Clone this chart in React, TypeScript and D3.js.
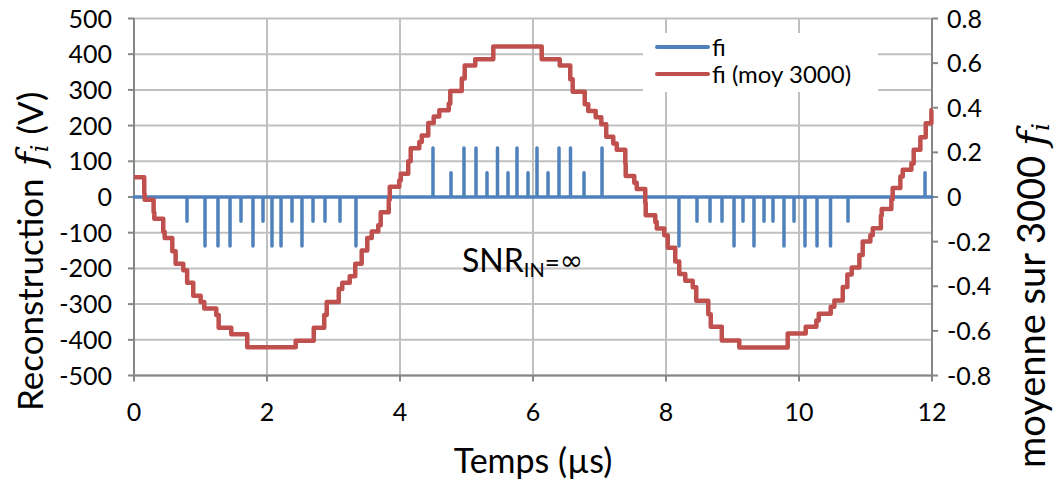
import React from "react";
import * as d3 from "d3";

// ---------- data ----------
const xTicks = [0, 2, 4, 6, 8, 10, 12];
const leftTicks = [500, 400, 300, 200, 100, 0, -100, -200, -300, -400, -500];
const leftTickLabels = ["500", "400", "300", "200", "100", "0", "-100", "-200", "-300", "-400", "-500"];
const rightTicks = [0.8, 0.6, 0.4, 0.2, 0, -0.2, -0.4, -0.6, -0.8];
const rightTickLabels = ["0.8", "0.6", "0.4", "0.2", "0", "-0.2", "-0.4", "-0.6", "-0.8"];

// fi: pulses (time µs, value V) on a zero baseline
const spikeTimes = [
  0.797, 1.068, 1.263, 1.444, 1.609, 1.789, 1.94, 2.075, 2.211, 2.376, 2.526, 2.692, 2.872, 3.098, 3.338,
  4.496, 4.767, 4.962, 5.143, 5.308, 5.466, 5.624, 5.759, 5.925, 6.06, 6.226, 6.391, 6.564, 6.767, 7.038,
  8.195, 8.466, 8.662, 8.842, 9.023, 9.158, 9.323, 9.474, 9.609, 9.774, 9.925, 10.09, 10.271, 10.474, 10.737,
  11.895,
];
const spikeValues = [
  -68, -137, -137, -137, -68, -137, -68, -137, -137, -68, -137, -68, -68, -68, -137,
  137, 68, 137, 137, 68, 137, 68, 137, 68, 137, 68, 137, 137, 68, 137,
  -137, -68, -68, -68, -137, -68, -137, -68, -68, -137, -68, -137, -137, -137, -68,
  68,
];

// fi (moy 3000): staircase, value holds from each time until the next
const avgTimes = [
  0, 0.154, 0.16, 0.295, 0.305, 0.44, 0.461, 0.576, 0.626, 0.741, 0.799, 0.891, 1.002, 1.057, 1.237, 1.273, 1.463, 1.703,
  2.432, 2.703, 2.861, 2.898, 3.079, 3.132, 3.244, 3.327, 3.424, 3.508, 3.575, 3.673, 3.71, 3.831, 3.846, 3.989, 4.011,
  4.124, 4.161, 4.29, 4.327, 4.425, 4.507, 4.591, 4.733, 4.756, 4.929, 4.973, 5.132, 5.403,
  6.131, 6.402, 6.56, 6.597, 6.778, 6.831, 6.943, 7.027, 7.101, 7.207, 7.259, 7.388, 7.394, 7.523, 7.56, 7.688, 7.695,
  7.839, 7.861, 7.974, 8.026, 8.139, 8.199, 8.29, 8.402, 8.455, 8.636, 8.673, 8.839, 9.102,
  9.83, 10.101, 10.261, 10.297, 10.477, 10.532, 10.658, 10.727, 10.793, 10.908, 10.958, 11.073, 11.109, 11.231, 11.244,
  11.389, 11.409, 11.524, 11.56, 11.69, 11.725, 11.825, 11.906, 11.991, 12,
];
const avgValues = [
  0.088, 0.016, -0.012, -0.068, -0.098, -0.156, -0.184, -0.243, -0.299, -0.328, -0.384, -0.443, -0.471, -0.5, -0.529, -0.586, -0.615, -0.673,
  -0.644, -0.586, -0.529, -0.471, -0.412, -0.384, -0.355, -0.299, -0.24, -0.184, -0.155, -0.127, -0.068, -0.012, 0.046, 0.074, 0.104,
  0.16, 0.218, 0.246, 0.276, 0.332, 0.361, 0.389, 0.418, 0.475, 0.531, 0.589, 0.617, 0.674,
  0.617, 0.589, 0.528, 0.472, 0.416, 0.385, 0.357, 0.326, 0.27, 0.24, 0.212, 0.15, 0.094, 0.064, 0.036, -0.026, -0.082,
  -0.112, -0.141, -0.171, -0.227, -0.289, -0.345, -0.375, -0.404, -0.465, -0.526, -0.582, -0.643, -0.674,
  -0.612, -0.582, -0.554, -0.523, -0.492, -0.464, -0.403, -0.347, -0.316, -0.26, -0.199, -0.171, -0.14, -0.084, -0.054,
  -0.01, 0.04, 0.092, 0.122, 0.15, 0.212, 0.268, 0.33, 0.39, 0.39,
];

const legendLabels = ["fi", "fi (moy 3000)"];

// ---------- layout ----------
const W = 1057;
const H = 484;
const left = 134;
const right = 932;
const top = 18.5;
const bottom = 375.5;
const FONT = "Lato, 'Open Sans', sans-serif";
const MATH = "'DejaVu Serif', 'Liberation Serif', serif";
const BLUE = "#4f81bd";
const RED = "#c0504d";
const GRID = "#c0c0c0";
const AXIS = "#868686";

export default function App() {
  const x = d3.scaleLinear().domain([0, 12]).range([left, right]);
  const yL = d3.scaleLinear().domain([-500, 500]).range([bottom, top]);
  const yR = d3.scaleLinear().domain([-0.8, 0.8]).range([bottom, top]);

  const bluePts: [number, number][] = [[0, 0]];
  spikeTimes.forEach((t, i) => {
    bluePts.push([t, 0], [t, spikeValues[i]], [t, 0]);
  });
  bluePts.push([12, 0]);
  const blueLine = d3
    .line<[number, number]>()
    .x((d) => x(d[0]))
    .y((d) => yL(d[1]));

  const redPts: [number, number][] = avgTimes.map((t, i) => [t, avgValues[i]]);
  const redLine = d3
    .line<[number, number]>()
    .x((d) => x(d[0]))
    .y((d) => yR(d[1]))
    .curve(d3.curveStepAfter);

  const TICK_FS = 25;

  return (
    <svg
      width={W}
      height={H}
      style={{ position: "absolute", left: 0, top: 0, background: "#fff" }}
      fontFamily={FONT}
    >
      <rect width={W} height={H} fill="#fff" />
      {/* grid */}
      {leftTicks.map((v) => (
        <line key={"h" + v} x1={left} x2={right} y1={yL(v)} y2={yL(v)} stroke={GRID} strokeWidth={2} />
      ))}
      {xTicks.map((v) => (
        <line key={"v" + v} x1={x(v)} x2={x(v)} y1={top} y2={bottom} stroke={GRID} strokeWidth={2} />
      ))}
      {/* axes */}
      <line x1={left} x2={left} y1={top} y2={bottom} stroke={AXIS} strokeWidth={2} />
      <line x1={right} x2={right} y1={top} y2={bottom} stroke={AXIS} strokeWidth={2} />
      <line x1={left} x2={right} y1={bottom} y2={bottom} stroke={AXIS} strokeWidth={2} />
      {leftTicks.map((v) => (
        <line key={"lt" + v} x1={left - 6} x2={left} y1={yL(v)} y2={yL(v)} stroke={AXIS} strokeWidth={2} />
      ))}
      {rightTicks.map((v) => (
        <line key={"rt" + v} x1={right} x2={right + 6} y1={yR(v)} y2={yR(v)} stroke={AXIS} strokeWidth={2} />
      ))}
      {xTicks.map((v) => (
        <line key={"xt" + v} x1={x(v)} x2={x(v)} y1={bottom} y2={bottom + 6} stroke={AXIS} strokeWidth={2} />
      ))}
      {/* tick labels */}
      {leftTicks.map((v, i) => (
        <text key={"ll" + v} x={112} y={yL(v)} dy="0.36em" textAnchor="end" fontSize={TICK_FS} fill="#000">
          {leftTickLabels[i]}
        </text>
      ))}
      {rightTicks.map((v, i) => (
        <text key={"rl" + v} x={947} y={yR(v)} dy="0.36em" textAnchor="start" fontSize={TICK_FS} fill="#000">
          {rightTickLabels[i]}
        </text>
      ))}
      {xTicks.map((v) => (
        <text key={"xl" + v} x={x(v)} y={421} textAnchor="middle" fontSize={TICK_FS} fill="#000">
          {String(v)}
        </text>
      ))}
      {/* series */}
      <path d={blueLine(bluePts) || ""} fill="none" stroke={BLUE} strokeWidth={3.5} strokeLinejoin="round" strokeLinecap="round" />
      <path d={redLine(redPts) || ""} fill="none" stroke={RED} strokeWidth={4.5} strokeLinejoin="round" />
      {/* legend */}
      <rect x={643} y={33} width={235} height={59} fill="#fff" />
      <line x1={657} x2={708} y1={47} y2={47} stroke={BLUE} strokeWidth={4} strokeLinecap="round" />
      <text x={712} y={47} dy="0.36em" fontSize={24} fill="#000">{legendLabels[0]}</text>
      <line x1={657} x2={708} y1={74} y2={74} stroke={RED} strokeWidth={4} strokeLinecap="round" />
      <text x={712} y={74} dy="0.36em" fontSize={24} fill="#000">{legendLabels[1]}</text>
      {/* annotation */}
      <text x={462} y={272} fontSize={32} fill="#000">
        SNR
        <tspan fontSize={20} dy={5}>IN</tspan>
        <tspan dy={-5} fontSize={26}>=</tspan>
        <tspan fontFamily="'DejaVu Sans', sans-serif" fontSize={28} dy={-2}>∞</tspan>
      </text>
      {/* axis titles */}
      <text x={533} y={473} textAnchor="middle" fontSize={34} fill="#000">Temps (µs)</text>
      <text transform="translate(43,411) rotate(-90)" textAnchor="start" fontSize={35} fill="#000">
        Reconstruction
        <tspan dx={12} fontStyle="italic" fontFamily={MATH} fontSize={38}>f</tspan>
        <tspan fontStyle="italic" fontFamily={MATH} fontSize={24} dy={5}>i</tspan>
        <tspan dy={-5} dx={10}>(V)</tspan>
      </text>
      <text transform="translate(1045,468) rotate(-90)" textAnchor="start" fontSize={38} fill="#000">
        moyenne sur 3000
        <tspan dx={10} fontStyle="italic" fontFamily={MATH} fontSize={40}>f</tspan>
        <tspan fontStyle="italic" fontFamily={MATH} fontSize={25} dy={4}>i</tspan>
      </text>
    </svg>
  );
}
